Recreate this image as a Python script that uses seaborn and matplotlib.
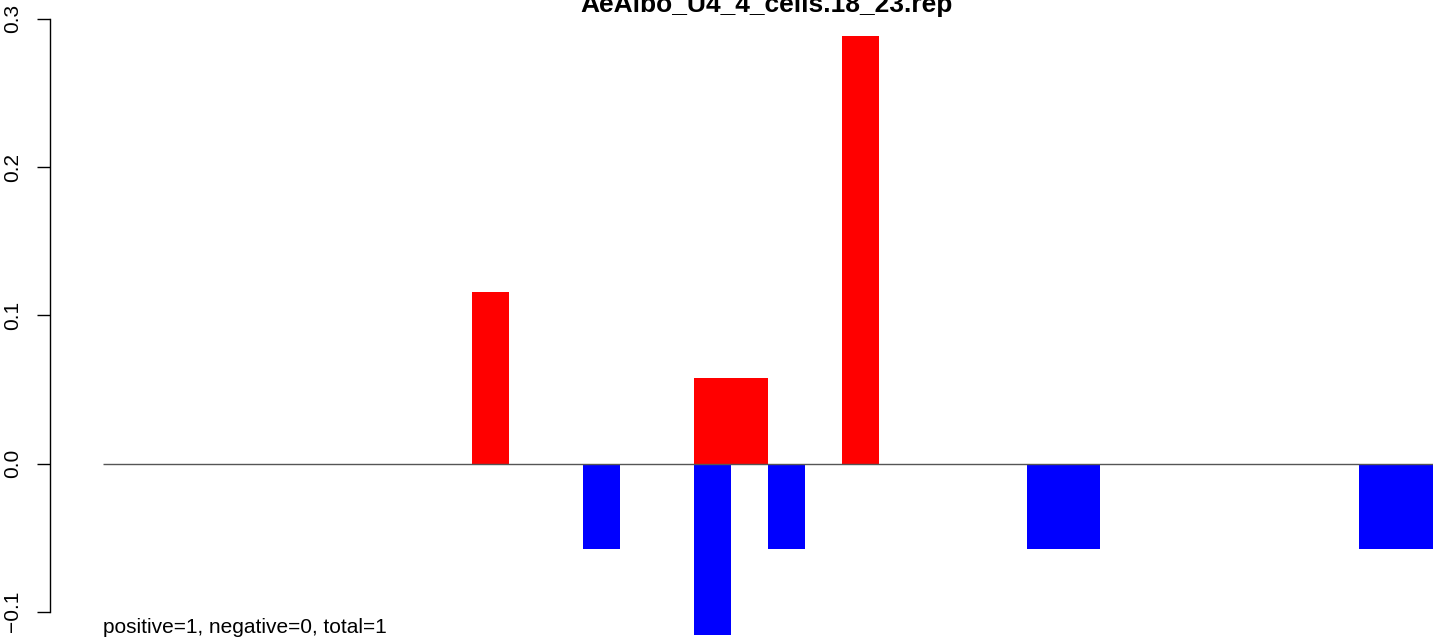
import seaborn as sns
import matplotlib.pyplot as plt
import pandas as pd
import numpy as np

# slot values (36 slots)
n_slots = 36
pos_slots = [10, 16, 17, 20]
pos_vals = [0.1154, 0.0577, 0.0577, 0.2885]
neg_slots = [13, 16, 18, 25, 26, 34, 35]
neg_vals = [-0.0577, -0.1154, -0.0577, -0.0577, -0.0577, -0.0577, -0.0577]
y_ticks = [-0.1, 0.0, 0.1, 0.2, 0.3]
title = "AeAlbo_U4_4_cells.18_23.rep"
footer = "positive=1, negative=0, total=1"

positive = np.zeros(n_slots)
positive[pos_slots] = pos_vals
negative = np.zeros(n_slots)
negative[neg_slots] = neg_vals
df = pd.DataFrame({'slot': [str(i) for i in range(n_slots)],
                   'positive': positive, 'negative': negative})

sns.set_style('white')
plt.rcParams['font.family'] = ['Liberation Sans', 'DejaVu Sans']
plt.rcParams['text.color'] = 'black'
plt.rcParams['ytick.color'] = 'black'

fig = plt.figure(figsize=(14.33, 6.4), dpi=100, facecolor='white')
ax = fig.add_axes([50 / 1433, 0, 1 - 50 / 1433, 1])

sns.barplot(data=df, x='slot', y='positive', color='#ff0000', width=1,
            saturation=1, linewidth=0, errorbar=None, ax=ax)
sns.barplot(data=df, x='slot', y='negative', color='#0000ff', width=1,
            saturation=1, linewidth=0, errorbar=None, ax=ax)
ax.hlines(0, -0.5, n_slots - 0.5, color='#555555', lw=1, zorder=3)

slot_px = 1330 / n_slots
ax.set_xlim(-0.5 - 53 / slot_px, n_slots - 0.5)
ax.set_ylim(-(640 - 463.5) / 1482, 463.5 / 1482)

for s in ['top', 'right', 'bottom']:
    ax.spines[s].set_visible(False)
ax.spines['left'].set_bounds(-0.1, 0.3)
ax.spines['left'].set_color('black')
ax.spines['left'].set_linewidth(1)
ax.set_xticks([])
ax.set_yticks(y_ticks)
ax.set_yticklabels([f'{v:.1f}'.replace('-', '\u2212') for v in y_ticks],
                   rotation=90, va='center', fontsize=15, color='black')
ax.tick_params(axis='y', left=True, length=9.4, width=1, color='black',
               labelcolor='black', pad=11)
ax.set_xlabel('')
ax.set_ylabel('')

fig.text(767 / 1433, 1 - 12 / 640, title, ha='center', va='baseline',
         fontsize=19, fontweight='bold', color='black')
fig.text(103 / 1433, 1 - 633 / 640, footer, ha='left', va='baseline',
         fontsize=15, color='black')

fig.savefig('out.png', dpi=100, facecolor='white')
